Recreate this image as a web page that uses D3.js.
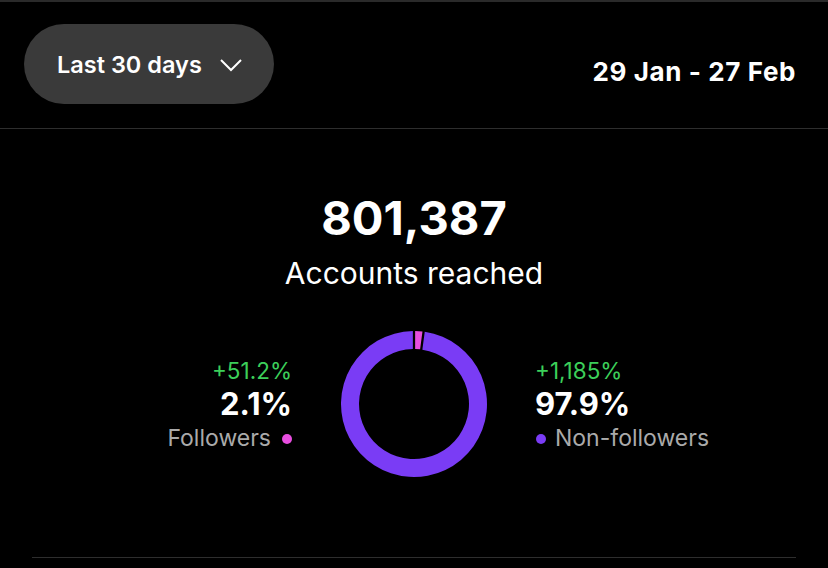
<!DOCTYPE html>
<html><head><meta charset="utf-8">
<script src="https://cdn.jsdelivr.net/npm/d3@7"></script>
<style>body{margin:0;background:#000;}svg{display:block;font-family:Inter,"Noto Sans",sans-serif;}</style>
</head><body>
<script>
const segments = ["Followers","Non-followers"];
const shares = [2.1, 97.9];
const changes = ["+51.2%","+1,185%"];
const colors = ["#e84ee0","#7a3cf5"];
const total = "801,387";

const W=828,H=568;
const svg=d3.select("body").append("svg").attr("width",W).attr("height",H);
svg.append("rect").attr("width",W).attr("height",H).attr("fill","#000");
svg.append("line").attr("x1",0).attr("x2",W).attr("y1",1).attr("y2",1).attr("stroke","#2a2a2a").attr("stroke-width",2);
svg.append("line").attr("x1",0).attr("x2",W).attr("y1",128.5).attr("y2",128.5).attr("stroke","#2e2e2e");
svg.append("line").attr("x1",32).attr("x2",796).attr("y1",557.5).attr("y2",557.5).attr("stroke","#2e2e2e");

svg.append("rect").attr("x",24).attr("y",24).attr("width",250).attr("height",80).attr("rx",40).attr("fill","#3a3a3a");
svg.append("text").attr("x",57).attr("y",73).attr("fill","#fff").attr("font-size",23.5).attr("font-weight",600).text("Last 30 days");
svg.append("path").attr("d","M221,60 L231,70 L241,60").attr("fill","none").attr("stroke","#fff").attr("stroke-width",2);
svg.append("text").attr("x",796).attr("y",81).attr("text-anchor","end").attr("fill","#fff").attr("font-size",26).attr("font-weight",700).attr("letter-spacing",0.6).text("29 Jan - 27 Feb");

svg.append("text").attr("x",414).attr("y",235).attr("text-anchor","middle").attr("fill","#fff").attr("font-size",47).attr("font-weight",700).text(total);
svg.append("text").attr("x",414).attr("y",284).attr("text-anchor","middle").attr("fill","#fff").attr("font-size",30).text("Accounts reached");

const pie=d3.pie().sort(null).value(d=>d)(shares);
const arc=d3.arc().innerRadius(55).outerRadius(73).padAngle(0.025);
const g=svg.append("g").attr("transform","translate(414,404)");
g.selectAll("path").data(pie).join("path").attr("d",arc).attr("fill",(d,i)=>colors[i]);

svg.append("text").attr("x",292).attr("y",379).attr("text-anchor","end").attr("fill","#3ccf5a").attr("font-size",22.5).text(changes[0]);
svg.append("text").attr("x",292).attr("y",415).attr("text-anchor","end").attr("fill","#fff").attr("font-size",31).attr("font-weight",700).text(shares[0].toFixed(1)+"%");
svg.append("text").attr("x",271).attr("y",446).attr("text-anchor","end").attr("fill","#aaa").attr("font-size",23).text(segments[0]);
svg.append("circle").attr("cx",287).attr("cy",439).attr("r",5).attr("fill",colors[0]);
svg.append("text").attr("x",535).attr("y",379).attr("fill","#3ccf5a").attr("font-size",22.5).text(changes[1]);
svg.append("text").attr("x",535).attr("y",415).attr("fill","#fff").attr("font-size",31).attr("font-weight",700).text(shares[1].toFixed(1)+"%");
svg.append("circle").attr("cx",541).attr("cy",439).attr("r",5).attr("fill",colors[1]);
svg.append("text").attr("x",555).attr("y",446).attr("fill","#aaa").attr("font-size",23).text(segments[1]);
</script>
</body></html>
